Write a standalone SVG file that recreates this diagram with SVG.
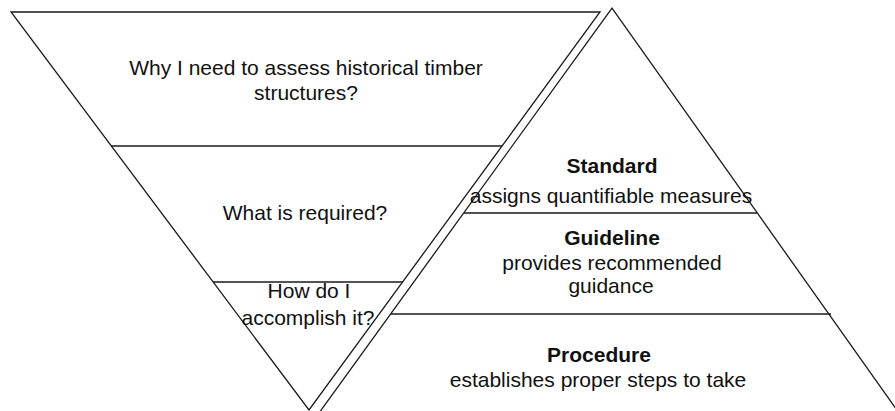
<svg xmlns="http://www.w3.org/2000/svg" width="895" height="411" viewBox="0 0 895 411">
  <style>
    .edge { fill: none; stroke: #1a1a1a; stroke-width: 1.3; }
    .lbl { font-family: "Liberation Sans", Arial, sans-serif; font-size: 21px; fill: #111; text-anchor: middle; }
    .ttl { font-weight: bold; }
  </style>
  <rect width="895" height="411" fill="#fff"/>

  <!-- inverted triangle: questions -->
  <g id="question-triangle">
    <polygon class="edge" points="11,12 600,12 309,410"/>
    <line class="edge" x1="111" y1="146" x2="502" y2="146"/>
    <line class="edge" x1="213" y1="282" x2="403" y2="282"/>
  </g>
  <g id="q-why">
    <text class="lbl" x="306" y="75">Why I need to assess historical timber</text>
    <text class="lbl" x="306" y="100">structures?</text>
  </g>
  <g id="q-what">
    <text class="lbl" x="305" y="220">What is required?</text>
  </g>
  <g id="q-how">
    <text class="lbl" x="309" y="298">How do I</text>
    <text class="lbl" x="308" y="325">accomplish it?</text>
  </g>

  <!-- upright triangle: documents -->
  <g id="document-triangle">
    <polyline class="edge" points="319,413 612,8 899,413"/>
    <line class="edge" x1="464" y1="213" x2="757" y2="213"/>
    <line class="edge" x1="391" y1="314" x2="831" y2="314"/>
  </g>
  <g id="standard">
    <text class="lbl ttl" x="612" y="173">Standard</text>
    <text class="lbl" x="611" y="203">assigns quantifiable measures</text>
  </g>
  <g id="guideline">
    <text class="lbl ttl" x="612" y="245">Guideline</text>
    <text class="lbl" x="612" y="270">provides recommended</text>
    <text class="lbl" x="611" y="293">guidance</text>
  </g>
  <g id="procedure">
    <text class="lbl ttl" x="599" y="362">Procedure</text>
    <text class="lbl" x="598" y="387">establishes proper steps to take</text>
  </g>
</svg>
